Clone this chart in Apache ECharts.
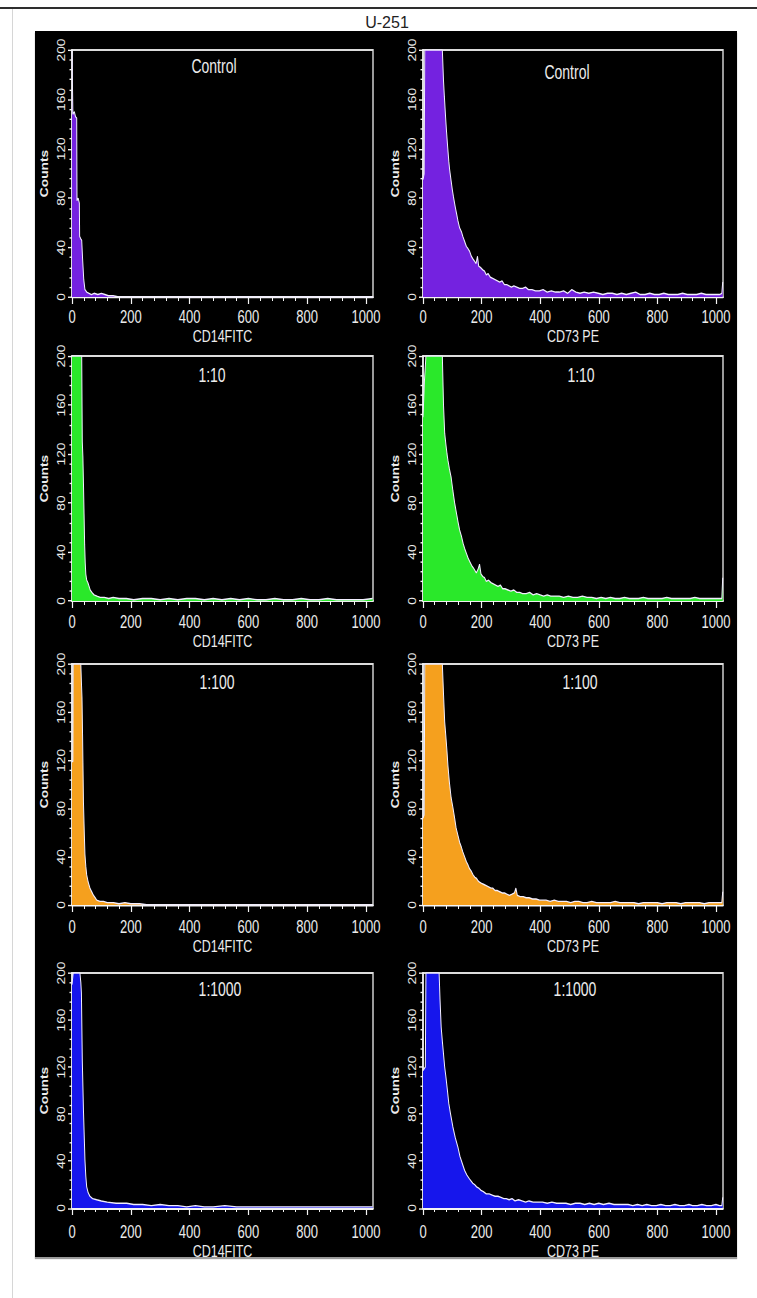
<!DOCTYPE html>
<html>
<head>
    <meta charset="utf-8">
    <title>U-251</title>
    <script src="https://cdn.jsdelivr.net/npm/echarts@6.0.0/dist/echarts.min.js"></script>
    <style>
        body { margin: 0; background: #fff; }
        #page { position: relative; width: 757px; height: 1298px; overflow: hidden; background: #fff; }
        .hline { position: absolute; left: 0; top: 7px; width: 757px; height: 2px; background: #2e2e2e; }
        .vline { position: absolute; left: 12px; top: 9px; width: 1px; height: 1289px; background: #d6d6d6; }
        .panel { position: absolute; left: 35px; top: 31px; width: 702px; height: 1226px; background: #000;
                 box-shadow: 0 2px 1px #9a9a9a; }
        #fig-title { position: absolute; left: 337px; top: 14px; width: 100px; text-align: center; line-height: 19px;
                     font: 16px 'Liberation Sans', Arial, sans-serif; color: #222; }
        /* the source figure is a vertically stretched screenshot, so the chart is drawn short and stretched */
        #main { position: absolute; left: 0; top: 0; width: 757px; height: 941px; transform-origin: 0 0; }
    </style>
</head>
<body>
<div id="page">
    <div class="hline"></div>
    <div class="vline"></div>
    <div class="panel"></div>
    <div id="fig-title">U-251</div>
    <div id="main"></div>
</div>

<script type="text/javascript">
    // panel labels
    var panelTitles = ['Control', '1:10', '1:100', '1:1000'];
    var markerNames = ['CD14FITC', 'CD73 PE'];
    var xMajorTicks = [0, 200, 400, 600, 800, 1000];
    var xMinorTicks = [40, 80, 120, 160, 240, 280, 320, 360, 440, 480, 520, 560,
                       640, 680, 720, 760, 840, 880, 920, 960];

    // histograms, [channel, counts] (clipped at 200)
    var cd14Control = [[0,200],[2,200],[3,148],[8,150],[12,146],[16,145],[17,78],[21,80],[25,76],[26,49],[30,47],[33,46],
        [36,31],[40,14],[44,6],[50,4],[58,3],[66,2],[75,3],[88,2],[100,3],[112,2],[124,1],[140,1],[160,0],[1023,0]];
    var cd14Ratio10 = [[0,200],[33,200],[35,130],[37,118],[39,96],[41,71],[43,46],[45,31],[47,22],[50,17],[54,15],[58,12],
        [62,9],[68,7],[75,5],[85,4],[96,3],[110,3],[125,2],[140,3],[160,2],[185,2],[210,1],[240,2],[270,2],[300,1],[330,2],
        [360,1],[390,2],[420,2],[450,1],[480,2],[510,1],[540,2],[570,1],[600,2],[630,1],[660,1],[690,2],[720,1],[750,1],
        [780,2],[810,1],[840,1],[870,2],[900,1],[930,1],[960,1],[990,1],[1023,2]];
    var cd14Ratio100 = [[0,119],[3,119],[4,200],[30,200],[32,185],[34,172],[36,140],[39,85],[42,58],[44,42],[47,32],[50,25],
        [55,19],[61,14],[67,11],[73,8],[79,6],[84,4],[95,3],[107,3],[120,2],[141,2],[160,1],[180,2],[200,1],[230,1],[260,0],[1023,0]];
    var cd14Ratio1000 = [[0,190],[4,200],[27,200],[30,192],[32,183],[35,126],[39,83],[42,58],[44,41],[47,27],[50,18],[55,13],
        [61,10],[70,8],[84,7],[100,6],[120,5],[150,4],[186,4],[210,3],[240,3],[270,2],[300,3],[330,2],[360,2],[390,1],[420,2],
        [450,1],[480,1],[520,2],[560,1],[600,1],[640,1],[680,1],[720,1],[760,1],[800,1],[840,1],[880,1],[920,1],[960,1],
        [1000,1],[1023,1]];
    var cd73Control = [[0,95],[4,100],[6,200],[66,200],[70,175],[73,162],[77,146],[80,135],[84,122],[88,110],[91,103],
        [96,94],[100,87],[104,81],[110,73],[115,67],[119,62],[125,56],[131,53],[136,49],[142,45],[148,41],[154,39],[159,37],
        [165,33],[170,31],[176,29],[181,27],[186,33],[190,25],[196,24],[204,22],[210,21],[216,18],[222,19],[230,16],[238,15],
        [246,14],[254,13],[262,12],[270,13],[278,10],[286,10],[294,9],[302,8],[310,9],[320,8],[330,7],[340,7],[350,8],[360,6],
        [372,6],[384,5],[397,5],[410,6],[424,4],[438,5],[452,4],[466,4],[480,5],[494,3],[508,6],[522,4],[536,3],[550,4],
        [566,3],[582,4],[598,3],[614,2],[630,3],[646,3],[662,2],[678,3],[694,2],[710,3],[726,4],[742,2],[758,2],[774,3],
        [790,2],[806,2],[822,3],[838,2],[854,2],[870,2],[886,3],[902,2],[918,2],[934,2],[950,3],[966,2],[982,2],[998,2],
        [1012,2],[1020,3],[1023,12]];
    var cd73Ratio10 = [[0,150],[5,180],[10,200],[66,200],[70,160],[74,137],[78,128],[82,120],[85,115],[90,108],[96,101],
        [102,90],[108,80],[114,72],[120,64],[125,58],[131,53],[137,47],[142,43],[148,39],[154,35],[160,32],[166,29],[172,27],
        [177,25],[182,23],[188,26],[193,30],[198,22],[204,20],[210,19],[216,16],[224,17],[232,15],[240,14],[248,13],[256,12],
        [264,13],[272,10],[280,10],[290,9],[300,8],[310,9],[320,7],[330,7],[340,6],[352,6],[364,7],[376,5],[388,6],[400,5],
        [412,4],[424,5],[436,4],[448,4],[465,4],[480,3],[496,4],[512,3],[528,3],[544,4],[560,3],[576,3],[592,2],[608,3],
        [624,2],[640,3],[656,2],[672,2],[688,3],[704,2],[720,2],[736,2],[752,3],[768,2],[784,2],[800,2],[816,2],[832,3],
        [848,2],[864,2],[880,2],[896,2],[912,2],[928,3],[944,2],[960,2],[976,2],[992,2],[1008,2],[1020,2],[1023,19]];
    var cd73Ratio100 = [[0,72],[4,75],[6,200],[66,200],[70,175],[74,152],[78,140],[82,127],[85,116],[90,102],[96,89],
        [102,81],[108,72],[113,64],[119,58],[125,52],[131,48],[136,44],[142,40],[148,36],[154,33],[159,30],[165,28],[171,25],
        [177,23],[183,22],[188,20],[193,19],[200,18],[208,17],[216,16],[224,15],[232,14],[238,14],[246,12],[254,12],[262,11],
        [270,10],[278,10],[286,9],[295,8],[304,9],[312,10],[317,14],[322,8],[332,7],[342,7],[352,6],[362,6],[374,5],[386,5],
        [398,4],[408,4],[420,4],[434,3],[448,4],[462,3],[476,3],[490,3],[504,2],[518,3],[532,3],[546,2],[560,2],[576,3],
        [592,2],[608,2],[624,2],[640,2],[656,3],[672,2],[688,2],[704,2],[720,2],[736,1],[752,2],[768,2],[784,2],[800,2],
        [816,1],[832,2],[848,2],[864,2],[880,1],[896,2],[912,2],[928,2],[944,2],[960,1],[976,2],[992,2],[1008,2],[1020,2],
        [1023,11]];
    var cd73Ratio1000 = [[0,117],[8,120],[10,200],[55,200],[58,178],[62,154],[66,142],[70,131],[74,120],[78,112],[83,101],
        [88,89],[94,80],[102,69],[110,60],[119,52],[126,44],[134,38],[142,32],[150,28],[158,25],[164,23],[170,21],[176,20],
        [183,18],[190,17],[198,15],[206,14],[216,12],[226,12],[236,11],[246,10],[256,10],[266,9],[276,8],[284,8],[294,7],
        [304,8],[314,6],[326,7],[338,6],[350,5],[362,6],[376,5],[392,5],[408,5],[424,4],[440,5],[456,4],[472,4],[488,4],
        [504,3],[520,4],[536,4],[552,3],[568,4],[584,3],[600,4],[616,3],[635,4],[652,3],[668,3],[684,3],[700,3],[716,2],
        [732,3],[748,2],[764,3],[780,2],[796,2],[812,3],[828,2],[844,2],[860,3],[876,2],[892,2],[908,3],[920,2],[936,2],
        [952,3],[968,2],[984,2],[1000,3],[1012,2],[1020,2],[1023,9]];

    var histData = [
        [cd14Control, cd73Control],
        [cd14Ratio10, cd73Ratio10],
        [cd14Ratio100, cd73Ratio100],
        [cd14Ratio1000, cd73Ratio1000]
    ];
    var fillColors = ['#7422e0', '#2ae82a', '#f5a01e', '#1616ec'];

    // layout of the composite in page pixels (each row was a separate screenshot)
    var S = 1298 / 941;            // vertical stretch of the source image
    var colLeft = [72, 423];
    var colWidth = [301, 300];
    var rowTop = [50, 356, 664, 973];
    var rowHeight = [247, 245, 241, 235];
    var labelMargin = [11, 12, 13, 15];
    var nameGap = [26, 28, 29, 31];
    var titleX = [[214, 567], [212, 581], [217, 580], [220, 575]];
    var titleY = [[67, 73], [376, 376], [683, 683], [990, 990]];

    var font = "'Liberation Sans', Arial, sans-serif";
    var ink = '#ececec';
    var axisInk = '#f4f4f4';

    var el = document.getElementById('main');
    el.style.transform = 'scaleY(' + S + ')';
    var myChart = echarts.init(el, null, {renderer: 'svg'});

    var grids = [], xAxes = [], yAxes = [], series = [], texts = [];
    for (var r = 0; r < 4; r++) {
        for (var c = 0; c < 2; c++) {
            var g = grids.length;
            grids.push({
                left: colLeft[c], top: rowTop[r] / S, width: colWidth[c], height: rowHeight[r] / S,
                show: true, backgroundColor: '#000', borderColor: '#dcdcdc', borderWidth: 1.4
            });
            // main x axis: line, major ticks, labels, name
            xAxes.push({
                gridIndex: g, type: 'value', position: 'bottom', min: 0, max: 1024, interval: 200,
                name: markerNames[c], nameLocation: 'middle', nameGap: nameGap[r] / S,
                nameTextStyle: {color: ink, fontFamily: font, fontSize: 12.5},
                axisLine: {show: true, onZero: false, lineStyle: {color: axisInk, width: 1.4}},
                axisTick: {show: true, length: 7 / S, customValues: xMajorTicks, lineStyle: {color: axisInk, width: 1.2}},
                minorTick: {show: false},
                axisLabel: {color: ink, fontFamily: font, fontSize: 13, margin: labelMargin[r] / S,
                            customValues: xMajorTicks,
                            formatter: function (v) { return String(v); }},
                splitLine: {show: false}
            });
            // second x axis only for the short minor ticks
            xAxes.push({
                gridIndex: g, type: 'value', position: 'bottom', min: 0, max: 1024,
                axisLine: {show: false},
                axisTick: {show: true, length: 4 / S, customValues: xMinorTicks, lineStyle: {color: axisInk}},
                axisLabel: {show: false},
                splitLine: {show: false}
            });
            yAxes.push({
                gridIndex: g, type: 'value', min: 0, max: 200, interval: 40,
                name: 'Counts', nameLocation: 'middle', nameRotate: 90, nameGap: 22,
                nameTextStyle: {color: ink, fontFamily: font, fontSize: 10, fontWeight: 'bold'},
                axisLine: {show: true, onZero: false, lineStyle: {color: axisInk, width: 1.5}},
                axisTick: {show: true, length: 4, lineStyle: {color: axisInk}},
                minorTick: {show: true, splitNumber: 5, length: 2.5, lineStyle: {color: axisInk}},
                axisLabel: {color: ink, fontFamily: font, fontSize: 10, rotate: 90, margin: 5},
                splitLine: {show: false}
            });
            series.push({
                type: 'line',
                xAxisIndex: g * 2,
                yAxisIndex: g,
                data: histData[r][c],
                symbol: 'none',
                clip: true,
                lineStyle: {color: '#f2eeff', width: 1},
                areaStyle: {color: fillColors[r], opacity: 1},
                animation: false
            });
            texts.push({
                type: 'text', x: titleX[r][c], y: titleY[r][c] / S, z: 100,
                style: {text: panelTitles[r], fill: ink, fontFamily: font, fontSize: 14,
                        align: 'center', verticalAlign: 'middle'}
            });
        }
    }

    var option = {
        animation: false,
        grid: grids,
        xAxis: xAxes,
        yAxis: yAxes,
        series: series,
        graphic: texts
    };
    myChart.setOption(option);
</script>
</body>
</html>
